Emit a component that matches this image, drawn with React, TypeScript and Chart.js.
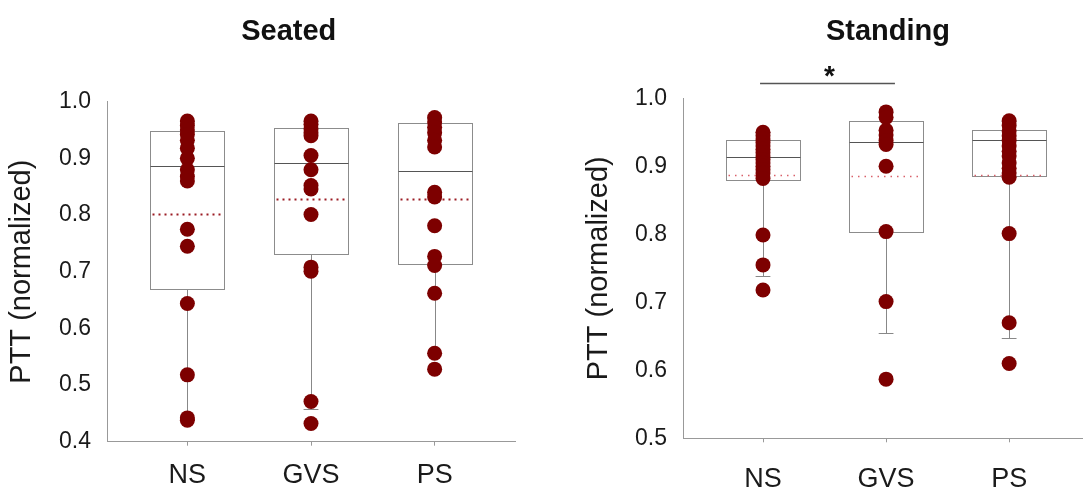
import React, { useEffect, useRef } from "react";
import { Chart, registerables } from "chart.js";
Chart.register(...registerables);

// ---------- data ----------
const categories = ["NS", "GVS", "PS"];

// Seated – individual points
const seatedNS = [0.966, 0.958, 0.95, 0.942, 0.932, 0.918, 0.9, 0.88, 0.868, 0.86, 0.775, 0.745, 0.644, 0.518, 0.442, 0.438];
const seatedGVS = [0.966, 0.96, 0.952, 0.945, 0.94, 0.905, 0.88, 0.852, 0.846, 0.801, 0.708, 0.701, 0.471, 0.432];
const seatedPS = [0.972, 0.964, 0.955, 0.945, 0.932, 0.92, 0.84, 0.832, 0.781, 0.727, 0.711, 0.662, 0.556, 0.528];

// Seated – box statistics (NS, GVS, PS)
const seatedQ1 = [0.669, 0.731, 0.714];
const seatedMedian = [0.887, 0.891, 0.878];
const seatedQ3 = [0.948, 0.953, 0.962];
const seatedMean = [0.801, 0.829, 0.828];
const seatedWhiskerLow = [0.44, 0.458, 0.556];
const seatedWhiskerHigh = [0.966, 0.966, 0.972];

// Standing – individual points
const standingNS = [0.95, 0.945, 0.94, 0.935, 0.93, 0.925, 0.92, 0.915, 0.91, 0.905, 0.9, 0.895, 0.89, 0.882, 0.799, 0.755, 0.718];
const standingGVS = [0.98, 0.972, 0.953, 0.946, 0.938, 0.932, 0.9, 0.804, 0.701, 0.587];
const standingPS = [0.967, 0.96, 0.952, 0.945, 0.938, 0.93, 0.922, 0.915, 0.905, 0.897, 0.89, 0.884, 0.801, 0.67, 0.61];

// Standing – box statistics (NS, GVS, PS)
const standingQ1 = [0.88, 0.804, 0.886];
const standingMedian = [0.914, 0.936, 0.939];
const standingQ3 = [0.939, 0.966, 0.953];
const standingMean = [0.887, 0.886, 0.887];
const standingWhiskerLow = [0.739, 0.655, 0.647];
const standingWhiskerHigh = [0.95, 0.98, 0.967];

// significance bracket (NS vs GVS, standing)
const sigFrom = 0.976;
const sigTo = 2.072;
const sigLevel = 1.022;
const sigLabel = "*";

const FONT = "'Liberation Sans', Arial, Helvetica, sans-serif";
const DOT = "#7d0000";

function buildPoints(groups: number[][]) {
  const pts: { x: number; y: number }[] = [];
  groups.forEach((g, i) => g.forEach((v) => pts.push({ x: i + 1, y: v })));
  return pts;
}

const crisp = (p: number) => Math.round(p) + 0.5;

const boxPlugin = {
  id: "boxes",
  beforeDatasetsDraw(chart: any, _a: any, o: any) {
    const { ctx } = chart;
    const x = chart.scales.x;
    const y = chart.scales.y;
    ctx.save();
    for (let i = 0; i < o.q1.length; i++) {
      const c = i + 1;
      const xl = crisp(x.getPixelForValue(c - o.halfWidth));
      const xr = crisp(x.getPixelForValue(c + o.halfWidth));
      const xc = crisp(x.getPixelForValue(c));
      const cl = x.getPixelForValue(c - o.capHalf);
      const cr = x.getPixelForValue(c + o.capHalf);
      const yq1 = crisp(y.getPixelForValue(o.q1[i]));
      const yq3 = crisp(y.getPixelForValue(o.q3[i]));
      const ymed = crisp(y.getPixelForValue(o.median[i]));
      const ymean = crisp(y.getPixelForValue(o.mean[i]));
      const ylo = crisp(y.getPixelForValue(o.wLow[i]));
      const yhi = crisp(y.getPixelForValue(o.wHigh[i]));
      ctx.setLineDash([]);
      ctx.strokeStyle = o.whiskerColor;
      ctx.lineWidth = 1;
      ctx.beginPath();
      ctx.moveTo(xc, yq1); ctx.lineTo(xc, ylo);
      ctx.moveTo(cl, ylo); ctx.lineTo(cr, ylo);
      ctx.moveTo(xc, yq3); ctx.lineTo(xc, yhi);
      ctx.moveTo(cl, yhi); ctx.lineTo(cr, yhi);
      ctx.stroke();
      ctx.strokeStyle = o.boxColor;
      ctx.lineWidth = 1;
      ctx.strokeRect(xl, yq3, xr - xl, yq1 - yq3);
      ctx.strokeStyle = o.medianColor;
      ctx.beginPath();
      ctx.moveTo(xl, ymed); ctx.lineTo(xr, ymed);
      ctx.stroke();
      ctx.setLineDash(o.meanDash);
      ctx.strokeStyle = o.meanColor;
      ctx.lineWidth = o.meanWidth;
      ctx.beginPath();
      ctx.moveTo(xl + 2, ymean); ctx.lineTo(xr - 2, ymean);
      ctx.stroke();
    }
    ctx.restore();
  },
};

const panelTitlePlugin = {
  id: "panelTitle",
  afterDraw(chart: any, _a: any, o: any) {
    const { ctx } = chart;
    const x = chart.scales.x;
    ctx.save();
    ctx.font = `bold ${o.size}px ${FONT}`;
    ctx.fillStyle = "#111";
    ctx.textAlign = "center";
    ctx.textBaseline = "alphabetic";
    ctx.fillText(o.text, x.getPixelForValue(o.xValue), o.baseline);
    ctx.restore();
  },
};

const sigPlugin = {
  id: "sig",
  afterDraw(chart: any, _a: any, o: any) {
    if (!o.display) return;
    const { ctx } = chart;
    const x = chart.scales.x;
    const y = chart.scales.y;
    const yy = crisp(y.getPixelForValue(o.level));
    const x1 = x.getPixelForValue(o.from);
    const x2 = x.getPixelForValue(o.to);
    ctx.save();
    ctx.strokeStyle = "#555";
    ctx.lineWidth = 1.5;
    ctx.beginPath();
    ctx.moveTo(x1, yy); ctx.lineTo(x2, yy);
    ctx.stroke();
    ctx.font = `bold 28px ${FONT}`;
    ctx.fillStyle = "#111";
    ctx.textAlign = "center";
    ctx.textBaseline = "alphabetic";
    ctx.fillText(o.label, (x1 + x2) / 2 + 2, yy + 1);
    ctx.restore();
  },
};

interface PanelCfg {
  groups: number[][];
  q1: number[]; median: number[]; q3: number[]; mean: number[]; wLow: number[]; wHigh: number[];
  yMin: number; yMax: number; xMax: number;
  axisWidth: number; axisHeight: number; padTop: number; padRight: number;
  yTitlePad: number; xTickPad: number;
  title: string; titleX: number;
  meanColor: string; meanWidth: number; meanDash: number[];
  sig: boolean;
}

function makeConfig(p: PanelCfg): any {
  return {
    type: "scatter",
    data: {
      datasets: [
        {
          data: buildPoints(p.groups),
          pointRadius: 7.5,
          pointBackgroundColor: DOT,
          pointBorderWidth: 0,
          pointHoverRadius: 7.5,
          clip: false,
        },
      ],
    },
    options: {
      animation: false,
      responsive: false,
      events: [],
      layout: { autoPadding: false, padding: { top: p.padTop, right: p.padRight, left: 0, bottom: 0 } },
      plugins: {
        legend: { display: false },
        tooltip: { enabled: false },
        boxes: {
          q1: p.q1, median: p.median, q3: p.q3, mean: p.mean, wLow: p.wLow, wHigh: p.wHigh,
          halfWidth: 0.3, capHalf: 0.06,
          boxColor: "#8c8c8c", medianColor: "#555", whiskerColor: "#888",
          meanColor: p.meanColor, meanWidth: p.meanWidth, meanDash: p.meanDash,
        },
        panelTitle: { text: p.title, xValue: p.titleX, baseline: 40, size: 29 },
        sig: { display: p.sig, from: sigFrom, to: sigTo, level: sigLevel, label: sigLabel },
      },
      scales: {
        x: {
          type: "linear",
          min: 0.35,
          max: p.xMax,
          afterBuildTicks: (s: any) => {
            s.ticks = categories.map((_, i) => ({ value: i + 1 }));
          },
          afterFit: (s: any) => {
            s.height = p.axisHeight;
            s.paddingLeft = 0;
            s.paddingRight = 0;
          },
          ticks: {
            callback: (v: any) => categories[Math.round(Number(v)) - 1] ?? "",
            font: { family: FONT, size: 27 },
            color: "#1a1a1a",
            padding: p.xTickPad,
            maxRotation: 0,
            autoSkip: false,
          },
          grid: { display: true, drawOnChartArea: false, drawTicks: true, tickLength: 4, color: "#999" },
          border: { display: true, color: "#999", width: 1 },
        },
        y: {
          type: "linear",
          min: p.yMin,
          max: p.yMax,
          afterFit: (s: any) => {
            s.width = p.axisWidth;
          },
          ticks: {
            stepSize: 0.1,
            callback: (v: any) => Number(v).toFixed(1),
            font: { family: FONT, size: 23 },
            color: "#1a1a1a",
            padding: 16,
          },
          grid: { display: false, drawTicks: false },
          border: { display: true, color: "#999", width: 1 },
          title: {
            display: true,
            text: "PTT (normalized)",
            font: { family: FONT, size: 29 },
            color: "#1a1a1a",
            padding: { top: p.yTitlePad, bottom: 0 },
          },
        },
      },
    },
    plugins: [boxPlugin, panelTitlePlugin, sigPlugin],
  };
}

function Panel({ cfg, left, width }: { cfg: PanelCfg; left: number; width: number }) {
  const ref = useRef<HTMLCanvasElement | null>(null);
  useEffect(() => {
    if (!ref.current) return;
    const chart = new Chart(ref.current, makeConfig(cfg));
    return () => chart.destroy();
  }, []);
  return (
    <canvas
      ref={ref}
      width={width}
      height={487}
      style={{ position: "absolute", left, top: 0, width, height: 487, display: "block" }}
    />
  );
}

const seatedCfg: PanelCfg = {
  groups: [seatedNS, seatedGVS, seatedPS],
  q1: seatedQ1, median: seatedMedian, q3: seatedQ3, mean: seatedMean,
  wLow: seatedWhiskerLow, wHigh: seatedWhiskerHigh,
  yMin: 0.4, yMax: 1.0, xMax: 3.65,
  axisWidth: 107, axisHeight: 45.3, padTop: 101.7, padRight: 45,
  yTitlePad: 5, xTickPad: 14,
  title: "Seated", titleX: 1.82,
  meanColor: "#9b1c24", meanWidth: 2, meanDash: [2, 4],
  sig: false,
};

const standingCfg: PanelCfg = {
  groups: [standingNS, standingGVS, standingPS],
  q1: standingQ1, median: standingMedian, q3: standingQ3, mean: standingMean,
  wLow: standingWhiskerLow, wHigh: standingWhiskerHigh,
  yMin: 0.5, yMax: 1.0, xMax: 3.6,
  axisWidth: 123, axisHeight: 48.7, padTop: 98.3, padRight: 0,
  yTitlePad: 22, xTickPad: 21,
  title: "Standing", titleX: 2.015,
  meanColor: "#d9606a", meanWidth: 1.3, meanDash: [1.5, 5],
  sig: true,
};

export default function App() {
  return (
    <div style={{ position: "absolute", left: 0, top: 0, width: 1083, height: 487, background: "#fff", overflow: "hidden" }}>
      <Panel cfg={seatedCfg} left={0} width={560} />
      <Panel cfg={standingCfg} left={560} width={523} />
    </div>
  );
}
